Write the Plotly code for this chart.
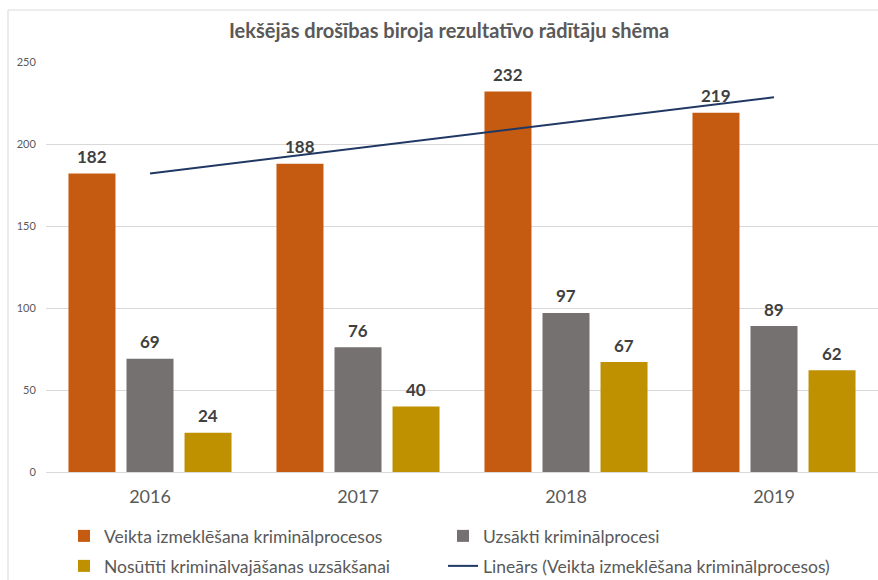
import numpy as np
import plotly.graph_objects as go

years = ["2016", "2017", "2018", "2019"]
veikta = [182, 188, 232, 219]
uzsakti = [69, 76, 97, 89]
nosutiti = [24, 40, 67, 62]

name_veikta = "Veikta izmeklēšana kriminālprocesos"
name_uzsakti = "Uzsākti kriminālprocesi"
name_nosutiti = "Nosūtīti kriminālvajāšanas uzsākšanai"
name_trend = "Lineārs (Veikta izmeklēšana kriminālprocesos)"
title = "Iekšējās drošības biroja rezultatīvo rādītāju shēma"

# linear trendline fitted to the first series
xi = np.arange(1, len(veikta) + 1)
k, b = np.polyfit(xi, veikta, 1)
trend = list(k * xi + b)

FONT = "Lato"
label_font = dict(family=FONT, size=17, color="#404040")

series = [
    (name_veikta, veikta, "#C55A11", "legend", -58),
    (name_uzsakti, uzsakti, "#767171", "legend", 0),
    (name_nosutiti, nosutiti, "#BF9000", "legend2", 58),
]

fig = go.Figure()
annotations = []
for name, vals, col, lg, shift in series:
    fig.add_trace(go.Bar(
        x=years, y=vals, name=name, marker=dict(color=col, line=dict(width=0)),
        legend=lg,
    ))
    for i, v in enumerate(vals):
        annotations.append(dict(
            x=i, y=v, xref="x", yref="y", text=f"<b>{v}</b>", showarrow=False,
            xshift=shift, yshift=17, yanchor="middle", xanchor="center",
            font=label_font,
        ))

fig.add_trace(go.Scatter(
    x=years, y=trend, mode="lines", name=name_trend,
    line=dict(color="#203864", width=2), legend="legend3",
))

W0, PW = 46, 832
PT, PH = 62, 410

def px2x(p):
    return (p - W0) / PW

def py2y(p):
    return (PT + PH - p) / PH

leg_font = dict(family=FONT, size=17.5, color="#595959")
leg_common = dict(orientation="h", xref="container", yref="container",
                  xanchor="left", yanchor="middle",
                  font=leg_font, bgcolor="rgba(0,0,0,0)", traceorder="normal")

fig.update_layout(
    width=878, height=580,
    margin=dict(l=W0, r=0, t=PT, b=580 - PT - PH, pad=0, autoexpand=False),
    paper_bgcolor="white", plot_bgcolor="white",
    barmode="group", bargap=0.163, bargroupgap=0.19,
    font=dict(family=FONT, color="#595959"),
    title=dict(text=f"<b>{title}</b>", x=449 / 878, xref="container",
               xanchor="center", y=1 - 31 / 580, yref="container", yanchor="middle",
               font=dict(family=FONT, size=20, color="#595959")),
    xaxis=dict(type="category", range=[-0.5, len(years) - 0.5], showgrid=False,
               showline=True, linecolor="#d9d9d9",
               linewidth=1, tickfont=dict(family=FONT, size=18, color="#595959"),
               ticks="outside", ticklen=8, tickcolor="rgba(0,0,0,0)"),
    yaxis=dict(range=[0, 250], dtick=50, showgrid=True, gridcolor="#d9d9d9",
               gridwidth=1, zeroline=False, showline=False,
               tickfont=dict(family=FONT, size=11, color="#595959"),
               ticks="outside", ticklen=7, tickcolor="rgba(0,0,0,0)"),
    legend=dict(x=64 / 878, y=1 - 536 / 580, entrywidth=334,
                entrywidthmode="pixels", **leg_common),
    legend2=dict(x=64 / 878, y=1 - 566 / 580, **leg_common),
    legend3=dict(x=443 / 878, y=1 - 566 / 580, **leg_common),
    showlegend=True,
    annotations=annotations,
    shapes=[dict(type="rect", xref="paper", yref="paper",
                 x0=px2x(8), x1=px2x(890), y0=py2y(600), y1=py2y(10),
                 line=dict(color="#d9d9d9", width=1), layer="below")],
)

fig.write_html("out.html", config={"displayModeBar": False},
               post_script="document.body.style.margin='0';document.body.style.padding='0';")
